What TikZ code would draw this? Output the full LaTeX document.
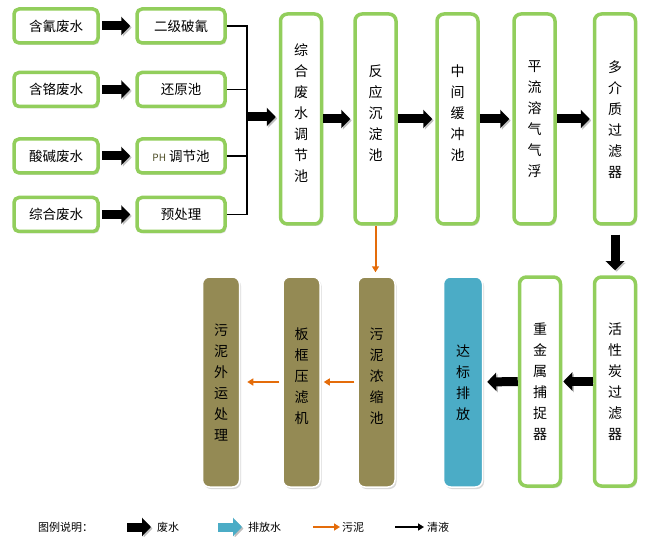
\documentclass[tikz,border=0pt]{standalone}
\usepackage{fontspec}
\setmainfont{Noto Sans CJK SC}
\usetikzlibrary{arrows.meta,shadows}

\definecolor{boxgreen}{RGB}{146,206,92}
\definecolor{mud}{RGB}{148,138,84}
\definecolor{aqua}{RGB}{75,172,198}
\definecolor{sludge}{RGB}{228,108,10}
\definecolor{phcol}{RGB}{79,79,40}

\tikzset{
  shade/.style={drop shadow={opacity=.3,shadow xshift=1.5pt,shadow yshift=-2pt}},
  wbox/.style={draw=boxgreen,line width=3.5pt,fill=white,rounded corners=5pt,
    minimum width=84pt,minimum height=34pt,inner sep=0pt,
    font=\fontsize{13.5}{16}\selectfont,shade},
  tallbox/.style={draw=boxgreen,line width=3.5pt,fill=white,rounded corners=7pt,
    minimum width=41pt,minimum height=210pt,inner sep=0pt,align=center,
    font=\fontsize{14}{21}\selectfont,shade},
  mudbox/.style={tallbox,draw=white,line width=1.5pt,fill=mud,
    minimum width=37pt,minimum height=210pt},
  aquabox/.style={mudbox,fill=aqua,minimum width=39pt},
  tup/.style={text depth=12.5pt},
  tdn/.style={text depth=-9pt},
  fat/.style={line width=9pt,-{Triangle[length=9pt,width=18pt]},
    preaction={draw=black!25,transform canvas={xshift=1.5pt,yshift=-1.5pt}}},
  bus/.style={line width=1.6pt},
  mudflow/.style={draw=sludge,line width=2pt,-{Triangle[length=6pt,width=7pt]}},
  clear/.style={line width=1.6pt,-{Triangle[length=6pt,width=7pt]}},
  legend/.style={anchor=west,inner sep=0pt,font=\fontsize{11}{13}\selectfont}
}

\begin{document}
\begin{tikzpicture}[x=1pt,y=-1pt]
  \useasboundingbox (0,0) rectangle (650,537);

  % incoming waste water
  \node (w1) at (56,26) [wbox]{含氰废水};
  \node (w2) at (56,89.5) [wbox]{含铬废水};
  \node (w3) at (56,156) [wbox]{酸碱废水};
  \node (w4) at (56,214.5) [wbox]{综合废水};

  \node (p1) at (181,26) [wbox,minimum width=88pt]{二级破氰};
  \node (p2) at (181,89.5) [wbox,minimum width=88pt]{还原池};
  \node (p3) at (181,156) [wbox,minimum width=88pt]{{\fontsize{10}{12}\selectfont\color{phcol}PH} 调节池};
  \node (p4) at (181,214.5) [wbox,minimum width=88pt]{预处理};

  % main line
  \node (adj) at (301,119) [tallbox,tup]{综\\合\\废\\水\\调\\节\\池};
  \node (react) at (375.5,119) [tallbox,tup]{反\\应\\沉\\淀\\池};
  \node (buf) at (457.5,119) [tallbox,tup]{中\\间\\缓\\冲\\池};
  \node (daf) at (534.5,119) [tallbox,tdn]{平\\流\\溶\\气\\气\\浮};
  \node (mmf) at (615,119) [tallbox,tdn]{多\\介\\质\\过\\滤\\器};

  \node (acf) at (615,381.5) [tallbox,tdn,minimum height=209pt]{活\\性\\炭\\过\\滤\\器};
  \node (hmc) at (540,381.5) [tallbox,tdn,minimum height=209pt]{重\\金\\属\\捕\\捉\\器};
  \node (out) at (463,382) [aquabox,tdn]{达\\标\\排\\放};

  % sludge line
  \node (thick) at (376.5,382) [mudbox,tup]{污\\泥\\浓\\缩\\池};
  \node (press) at (301.5,382) [mudbox,tup]{板\\框\\压\\滤\\机};
  \node (haul) at (221,382) [mudbox,tdn]{污\\泥\\外\\运\\处\\理};

  \foreach \i in {1,...,4}
    \draw[fat,shorten <=2pt,shorten >=5pt] (w\i) -- (p\i);

  \coordinate (jt) at (247,26);
  \coordinate (jm) at (247,117);
  \draw[bus] (p1.east) -- (p1.east -| jt) -- (p4.east -| jt) -- (p4.east);
  \draw[bus] (p2.east) -- (p2.east -| jt);
  \draw[bus] (p3.east) -- (p3.east -| jt);
  \draw[fat,shorten >=3pt] (jm) -- (jm -| adj.west);

  \draw[fat,shorten >=3pt] (adj) -- (react);
  \draw[fat,shorten >=3pt] (react) -- (buf);
  \draw[fat,shorten >=3pt] (buf) -- (daf);
  \draw[fat,shorten >=3pt] (daf) -- (mmf);
  \draw[fat,shorten <=9pt,shorten >=5pt] (mmf) -- (acf);
  \draw[fat,shorten >=1pt] (acf) -- (hmc);
  \draw[fat,shorten >=4pt] (hmc) -- (out);

  \draw[mudflow,shorten >=4pt] (react.south) -- (react.south |- thick.north);
  \draw[mudflow,shorten <=3pt,shorten >=3pt] (thick) -- (press);
  \draw[mudflow,shorten <=3pt,shorten >=7pt] (press) -- (haul);

  % legend
  \node (lg) at (38,527) [legend]{图例说明：};
  \coordinate (a1) at (127,527);
  \coordinate (a2) at (218,527);
  \coordinate (a3) at (313,527);
  \coordinate (a4) at (395,527);
  \node (lg1) at (157,527) [legend]{废水};
  \node (lg2) at (248,527) [legend]{排放水};
  \node (lg3) at (342,527) [legend]{污泥};
  \node (lg4) at (427,527) [legend]{清液};
  \draw[fat,shorten >=6pt] (a1) -- (lg1.west);
  \draw[fat,draw=aqua,shorten >=6pt] (a2) -- (lg2.west);
  \draw[mudflow,shorten >=2pt] (a3) -- (lg3.west);
  \draw[clear,shorten >=3pt] (a4) -- (lg4.west);

\end{tikzpicture}
\end{document}
